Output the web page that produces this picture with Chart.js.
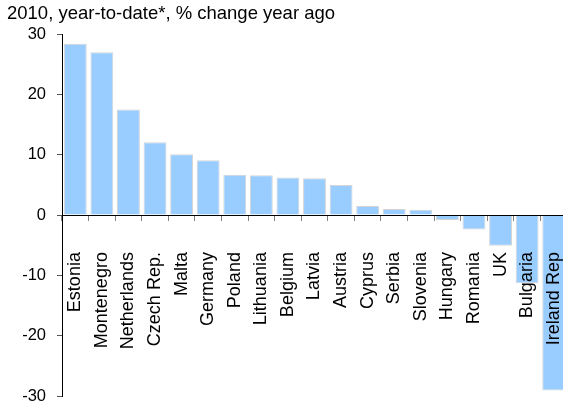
<!DOCTYPE html>
<html>
<head>
<meta charset="utf-8">
<script src="https://cdn.jsdelivr.net/npm/chart.js@4"></script>
<style>
  html, body { margin: 0; padding: 0; background: #fff; overflow: hidden; }
  #wrap { width: 568px; height: 408px; position: relative; }
</style>
</head>
<body>
<div id="wrap"><canvas id="chart"></canvas></div>
<script>
const ctx = document.getElementById('chart').getContext('2d');

const countries = ['Estonia', 'Montenegro', 'Netherlands', 'Czech Rep.', 'Malta', 'Germany',
    'Poland', 'Lithuania', 'Belgium', 'Latvia', 'Austria', 'Cyprus', 'Serbia', 'Slovenia',
    'Hungary', 'Romania', 'UK', 'Bulgaria', 'Ireland Rep'];
const changes = [28.4, 27.0, 17.5, 12.1, 10.1, 9.1, 6.7, 6.6, 6.25, 6.1, 5.0, 1.5, 1.0, 0.9,
    -0.8, -2.4, -5.1, -11.3, -29.1];
const yTicks = [-30, -20, -10, 0, 10, 20, 30];

const fontFamily = '"Liberation Sans", Arial, sans-serif';

const myChart = new Chart(ctx, {
    type: 'bar',
    data: {
        labels: countries,
        datasets: [{
            data: changes,
            backgroundColor: '#99CCFF',
            borderColor: '#D4D4D4',
            borderWidth: 1,
            barPercentage: 0.86,
            categoryPercentage: 1
        }]
    },
    options: {
        responsive: true,
        maintainAspectRatio: false,
        animation: false,
        layout: {
            padding: { left: 7, right: 1, top: 0, bottom: 12 }
        },
        scales: {
            x: {
                position: { y: 0 },
                offset: true,
                // labels sit below the zero line, keep them from squeezing the plot
                afterFit: (scale) => { scale.paddingLeft = 0; scale.paddingRight = 0; },
                grid: {
                    offset: true,
                    drawOnChartArea: false,
                    drawTicks: true,
                    tickLength: 5,
                    color: '#808080',
                    z: 1
                },
                border: { display: true, color: '#000', width: 1, z: 1 },
                ticks: {
                    autoSkip: false,
                    minRotation: 90,
                    maxRotation: 90,
                    padding: 32,
                    color: '#000',
                    z: 1,
                    font: { family: fontFamily, size: 18 }
                }
            },
            y: {
                min: -30,
                max: 30,
                afterFit: (scale) => {
                    scale.width = 55;
                    scale.paddingTop = 0;
                    scale.paddingBottom = 0;
                },
                afterBuildTicks: (scale) => { scale.ticks = yTicks.map(v => ({ value: v })); },
                grid: {
                    drawOnChartArea: false,
                    drawTicks: true,
                    tickLength: 5,
                    color: '#555'
                },
                border: { display: true, color: '#000', width: 1 },
                ticks: {
                    padding: 11,
                    color: '#000',
                    font: { family: fontFamily, size: 16.5 }
                }
            }
        },
        plugins: {
            legend: { display: false },
            tooltip: { enabled: false },
            title: {
                display: true,
                text: '2010, year-to-date*, % change year ago',
                align: 'start',
                color: '#000',
                font: { family: fontFamily, size: 18.5, weight: 'normal', lineHeight: 1.2 },
                padding: { top: 3, bottom: 9 }
            }
        }
    }
});
</script>
</body>
</html>
